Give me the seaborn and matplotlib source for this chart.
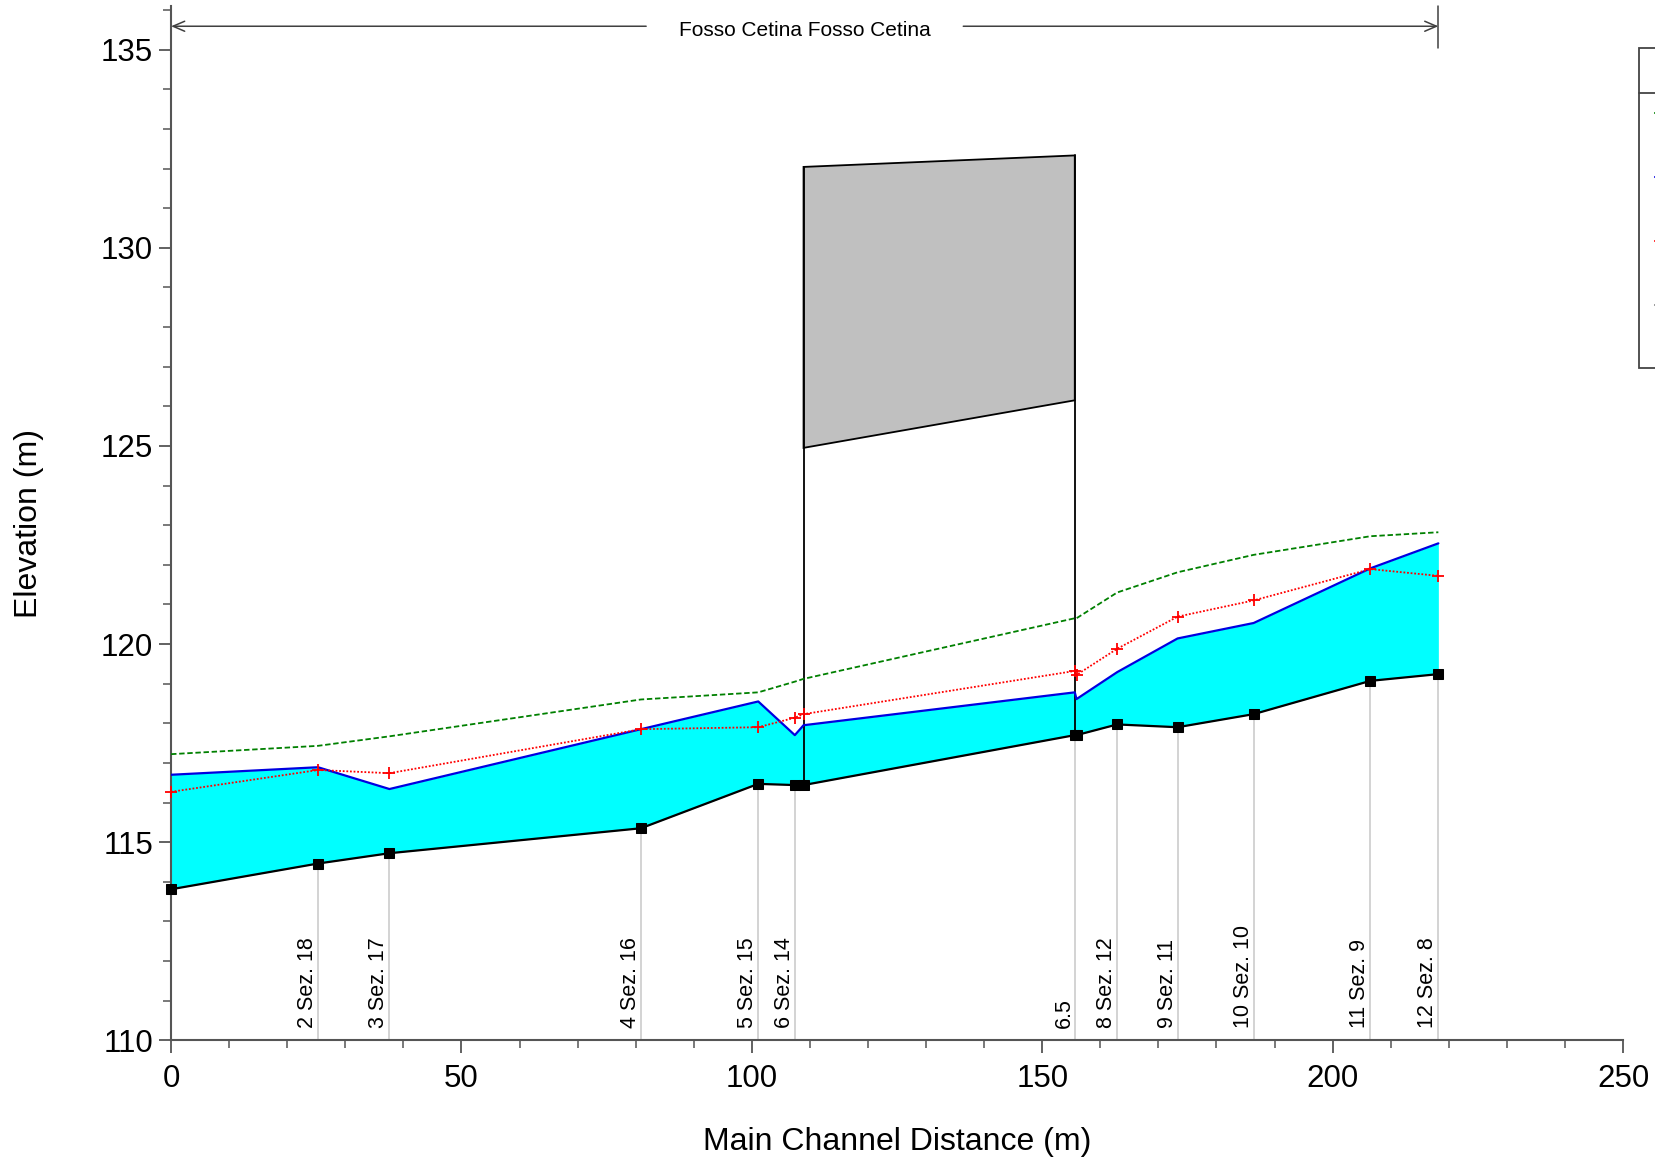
"""
HEC-RAS style profile plot — Fosso Cetina
"""
import matplotlib
matplotlib.use("Agg")
import numpy as np
import pandas as pd
import matplotlib.pyplot as plt
from matplotlib.patches import Polygon, Rectangle
from matplotlib.lines import Line2D
from matplotlib.ticker import MultipleLocator
import seaborn as sns

sns.set_theme(style="white")
plt.rcParams["font.family"] = ["Liberation Sans", "DejaVu Sans"]
plt.rcParams.update({"text.color": "black", "axes.labelcolor": "black",
                     "xtick.labelcolor": "black", "ytick.labelcolor": "black"})

# ── Data ──────────────────────────────────────────────────────────────────────
station_x = [0, 25.3, 37.6, 80.9, 101.1, 107.4, 108.9, 155.6, 155.9, 162.9, 173.3, 186.4, 206.5, 218.2]
ground    = [113.81, 114.46, 114.72, 115.35, 116.47, 116.44, 116.44, 117.70, 117.70, 117.97, 117.90, 118.23, 119.07, 119.24]
ws        = [116.70, 116.89, 116.34, 117.85, 118.55, 117.70, 117.95, 118.78, 118.61, 119.29, 120.14, 120.53, 121.91, 122.54]
crit      = [116.27, 116.82, 116.74, 117.85, 117.90, 118.14, 118.23, 119.32, 119.22, 119.88, 120.69, 121.10, 121.89, 121.72]
eg        = [117.22, 117.43, 117.67, 118.60, 118.78, 119.05, 119.12, 120.65, 120.65, 121.30, 121.81, 122.25, 122.72, 122.82]

label_x   = [25.3, 37.6, 80.9, 101.1, 107.4, 155.6, 162.9, 173.3, 186.4, 206.5, 218.2]
label_txt = ["2 Sez. 18", "3 Sez. 17", "4 Sez. 16", "5 Sez. 15", "6 Sez. 14", "6.5",
             "8 Sez. 12", "9 Sez. 11", "10 Sez. 10", "11 Sez. 9", "12 Sez. 8"]

bridge_x      = [108.9, 155.6]
deck_top      = [132.04, 132.33]
deck_bottom   = [124.95, 126.15]

reach_name  = "Fosso Cetina Fosso Cetina"
reach_start = 0
reach_end   = 218.2

df = pd.DataFrame({"x": station_x, "ground": ground, "ws": ws, "crit": crit, "eg": eg})
ground_at = dict(zip(station_x, ground))

# ── Figure ────────────────────────────────────────────────────────────────────
fig = plt.figure(figsize=(16.56, 11.61), dpi=100)
ax = fig.add_axes([0.1033, 0.104, 0.8768, 0.8908])
ax.set_xlim(0, 250)
ax.set_ylim(110, 136.1)

# water body
ax.fill_between(df["x"], df["ground"], df["ws"], color="#00FFFF", lw=0, zorder=1)

# station marker lines
for x, txt in zip(label_x, label_txt):
    ax.plot([x, x], [110, ground_at[x]], color="#C8C8C8", lw=1.1, zorder=1.5)
    ax.text(x, 110.3, txt, rotation=90, rotation_mode="anchor",
            ha="left", va="bottom", fontsize=15.5, color="black", zorder=5)

# bridge deck
deck = Polygon([(bridge_x[0], deck_top[0]), (bridge_x[1], deck_top[1]),
                (bridge_x[1], deck_bottom[1]), (bridge_x[0], deck_bottom[0])],
               closed=True, facecolor="#C0C0C0", edgecolor="black", lw=1.3, zorder=2)
ax.add_patch(deck)
for bx, top in zip(bridge_x, deck_top):
    ax.plot([bx, bx], [ground_at[bx], top], color="black", lw=1.3, zorder=2.5)

# profile lines
sns.lineplot(data=df, x="x", y="eg", ax=ax, color="#008000", lw=1.3,
             linestyle=(0, (3, 1.5)), estimator=None, sort=False, zorder=3)
sns.lineplot(data=df, x="x", y="crit", ax=ax, color="#FF0000", lw=1.3,
             linestyle=(0, (1, 1)), marker="+", markersize=9, markeredgewidth=1.3,
             markeredgecolor="#FF0000", estimator=None, sort=False, zorder=4,
             clip_on=False)
sns.lineplot(data=df, x="x", y="ws", ax=ax, color="#0000E0", lw=1.6,
             estimator=None, sort=False, zorder=3.5)
sns.lineplot(data=df, x="x", y="ground", ax=ax, color="black", lw=1.6,
             marker="s", markersize=7, markeredgecolor="black", markerfacecolor="black",
             estimator=None, sort=False, zorder=4.5, clip_on=False)

# reach annotation on top
yr = 135.59
arrow_kw = dict(arrowstyle="->,head_length=0.7,head_width=0.3", lw=1.1, color="#404040",
                shrinkA=0, shrinkB=0)
ax.annotate("", xy=(reach_start, yr), xytext=(81.8, yr), arrowprops=arrow_kw,
            annotation_clip=False)
ax.annotate("", xy=(reach_end, yr), xytext=(136.4, yr), arrowprops=arrow_kw,
            annotation_clip=False)
ax.text((reach_start + reach_end) / 2, yr - 0.1, reach_name, ha="center", va="center",
        fontsize=15)
ax.plot([reach_end, reach_end], [135.04, 136.1], color="#404040", lw=1.1, clip_on=False)

# axes styling
for s in ["top", "right"]:
    ax.spines[s].set_visible(False)
for s in ["left", "bottom"]:
    ax.spines[s].set_color("#555555")
    ax.spines[s].set_linewidth(1.5)
ax.xaxis.set_major_locator(MultipleLocator(50))
ax.xaxis.set_minor_locator(MultipleLocator(10))
ax.yaxis.set_major_locator(MultipleLocator(5))
ax.yaxis.set_minor_locator(MultipleLocator(1))
ax.tick_params(which="major", direction="out", length=9, width=1.3, color="#555555",
               labelsize=22.5, labelcolor="black", bottom=True, left=True)
ax.tick_params(axis="x", which="major", pad=8)
ax.tick_params(axis="y", which="major", pad=4)
ax.tick_params(which="minor", direction="out", length=6, width=1.1, color="#555555",
               bottom=True, left=True)
ax.set_xlabel("Main Channel Distance (m)", fontsize=23, labelpad=24, color="black")
ax.set_ylabel("Elevation (m)", fontsize=23, labelpad=41, color="black")
ax.grid(False)

# clipped legend frame at the right edge
fig.add_artist(Rectangle((0.9899, 0.6833), 0.05, 0.2751, transform=fig.transFigure,
                         facecolor="white", edgecolor="#444444", lw=1.3, clip_on=False))
fig.add_artist(Line2D([0.9899, 1.0], [0.9196, 0.9196], transform=fig.transFigure,
                      color="#444444", lw=1.3))
for fy, c in zip([0.9029, 0.8478, 0.7927, 0.7376], ["#008000", "#0000E0", "#FF0000", "#808080"]):
    fig.add_artist(Line2D([0.9993, 1.0], [fy, fy], transform=fig.transFigure, color=c, lw=1.5))

fig.savefig("out.png", dpi=100)
